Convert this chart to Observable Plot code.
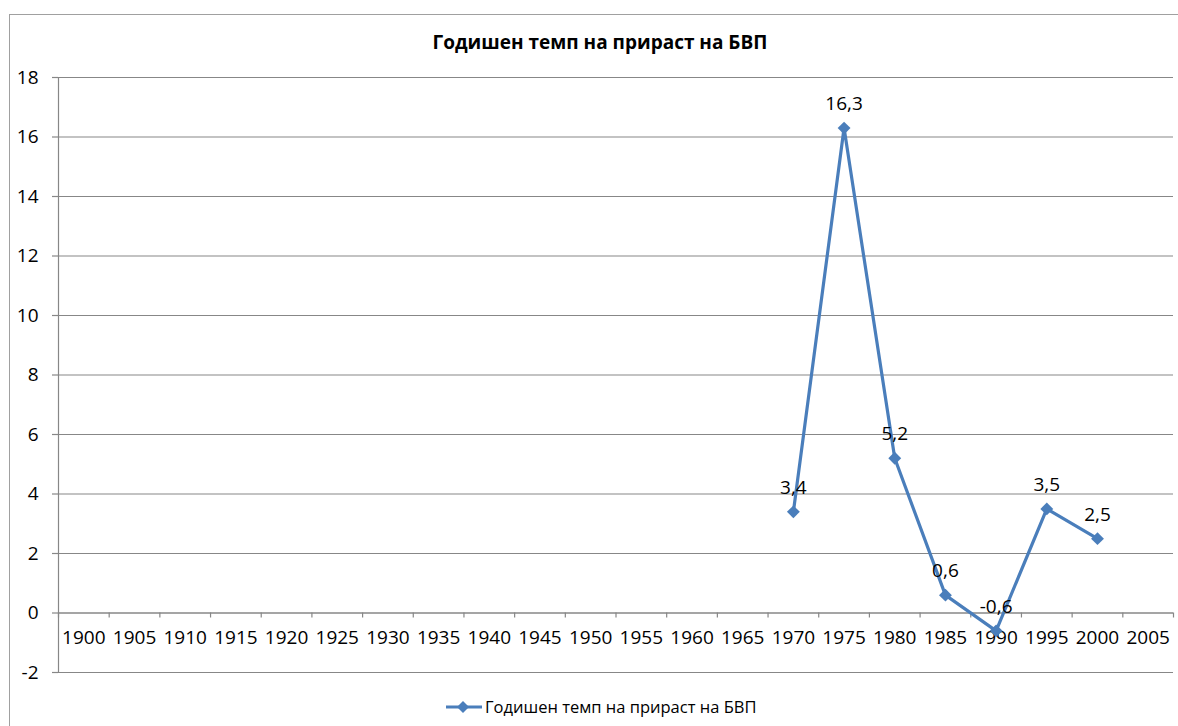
<!DOCTYPE html>
<html>
<head>
<meta charset="utf-8">
<script src="https://cdn.jsdelivr.net/npm/d3@7"></script>
<script src="https://cdn.jsdelivr.net/npm/@observablehq/plot@0.6"></script>
<style>
  html, body { margin: 0; padding: 0; background: #fff; }
  body { width: 1178px; height: 726px; overflow: hidden; position: relative; font-family: "Open Sans", sans-serif; }
  #frame { position: absolute; left: 9px; top: 14px; width: 1200px; height: 800px; border: 1.5px solid #a0a0a0; box-sizing: border-box; }
  #title { position: absolute; left: 0; top: 29px; width: 1200px; text-align: center; font-weight: bold; font-size: 19px; color: #000; }
  #chart { position: absolute; left: 0; top: 60px; }
  #chart svg { background: transparent !important; }
  #legend { position: absolute; left: 446px; top: 695px; font-size: 16.5px; color: #000; display: flex; align-items: center; }
  #legend svg { margin-right: 3px; }
</style>
</head>
<body>
<div id="frame"></div>
<div id="title"></div>
<div id="chart"></div>
<div id="legend"></div>
<script>
const titleText = "Годишен темп на прираст на БВП";
const seriesName = "Годишен темп на прираст на БВП";
const categories = [1900,1905,1910,1915,1920,1925,1930,1935,1940,1945,1950,1955,1960,1965,1970,1975,1980,1985,1990,1995,2000,2005];
const years = [1970,1975,1980,1985,1990,1995,2000];
const values = [3.4,16.3,5.2,0.6,-0.6,3.5,2.5];
const yTicks = [-2,0,2,4,6,8,10,12,14,16,18];

const color = "#4a7ebb";
const grid = "#878787";
const data = years.map((y, i) => ({year: y, value: values[i]}));
const half = 2.5;
const boundaries = categories.map(c => c - half).concat([categories[categories.length - 1] + half]);

document.getElementById("title").textContent = titleText;

const chart = Plot.plot({
  width: 1178,
  height: 630,
  marginTop: 17,
  marginBottom: 18,
  marginLeft: 58,
  marginRight: 5,
  style: {fontFamily: "Open Sans, sans-serif", fontSize: "19px", color: "#000", background: "transparent"},
  x: {domain: [categories[0] - half, categories[categories.length - 1] + half], axis: null},
  y: {domain: [yTicks[0], yTicks[yTicks.length - 1]], axis: null},
  marks: [
    Plot.gridY(yTicks, {stroke: grid, strokeOpacity: 1, strokeWidth: 1.2}),
    Plot.axisY(yTicks, {tickSize: 6, tickPadding: 14, stroke: grid, strokeOpacity: 1, strokeWidth: 1.2, fill: "#000", fontSize: 19, tickFormat: d => String(d), label: null}),
    Plot.ruleX([boundaries[0]], {stroke: grid, strokeWidth: 1.2}),
    Plot.ruleY([0], {stroke: grid, strokeWidth: 1.2}),
    Plot.ruleX(boundaries, {x: d => d, y1: 0, y2: 0, insetBottom: -5, stroke: grid, strokeWidth: 1.2}),
    Plot.text(categories, {x: d => d, y: 0, dy: 25, text: d => String(d), fill: "#000", fontSize: 19}),
    Plot.line(data, {x: "year", y: "value", stroke: color, strokeWidth: 3.2}),
    Plot.dot(data, {x: "year", y: "value", symbol: "diamond2", r: 5.8, fill: color, stroke: null}),
    Plot.text(data, {x: "year", y: "value", dy: -24, text: d => String(d.value).replace(".", ","), fill: "#000", fontSize: 19})
  ]
});
document.getElementById("chart").appendChild(chart);

const legend = document.getElementById("legend");
legend.innerHTML = `<svg width="36" height="14"><line x1="0" y1="7" x2="36" y2="7" stroke="${color}" stroke-width="3"></line><path d="M17,1 L23,7 L17,13 L11,7 Z" fill="${color}"></path></svg><span></span>`;
legend.querySelector("span").textContent = seriesName;
</script>
</body>
</html>
